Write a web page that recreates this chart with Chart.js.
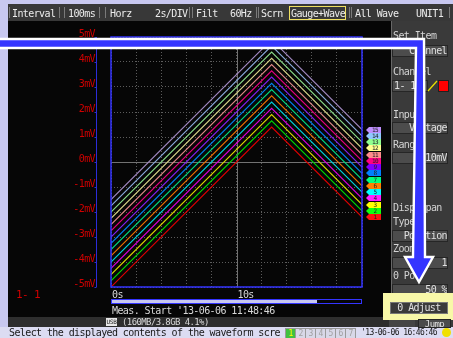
<!DOCTYPE html>
<html>
<head>
<meta charset="utf-8">
<script src="https://cdn.jsdelivr.net/npm/chart.js@4.4.1/dist/chart.umd.min.js"></script>
<style>
html, body { margin: 0; padding: 0; }
body {
    width: 453px; height: 338px; overflow: hidden; position: relative;
    background: #c8c8f0;
    font-family: 'DejaVu Sans Mono', monospace; font-size: 10px; letter-spacing: -0.6px;
}
.box { position: absolute; }
.t { position: absolute; white-space: nowrap; line-height: 12px; }
.top { color: #ececec; top: 8px; }
.p { color: #d4d4d4; left: 393px; }
.btn {
    position: absolute; left: 392px; width: 54px; height: 10px; line-height: 10px;
    background: #4c4c4c; border: 1px solid #262626; color: #e0e0e0;
    text-align: right; white-space: nowrap; overflow: hidden;
}
.sep { position: absolute; top: 7px; width: 1px; height: 11px; background: #7a7a7a; }
.cell { position: absolute; top: 328px; width: 9px; height: 9px; border: 1px solid #9a9a9a; color: #a0a0a0; font-size: 8px; line-height: 9px; text-align: center; background: #d8d8e8; }
#c { position: absolute; left: 0; top: 0; }
</style>
</head>
<body>

<!-- frames -->
<div class="box" style="left:8px;top:4px;width:445px;height:17px;background:#383838"></div>
<div class="box" style="left:8px;top:21px;width:383px;height:296px;background:#060606"></div>
<div class="box" style="left:391px;top:21px;width:62px;height:306px;background:#3a3a3a;border-left:1px solid #676767"></div>
<div class="box" style="left:8px;top:317px;width:383px;height:10px;background:#2e2e2e"></div>
<div class="box" style="left:0;top:327px;width:453px;height:11px;background:#dcdcf2"></div>

<canvas id="c" width="453" height="338"></canvas>

<!-- top bar -->
<div class="sep" style="left:9px"></div><div class="sep" style="left:59px"></div>
<div class="sep" style="left:64px"></div><div class="sep" style="left:99px"></div>
<div class="sep" style="left:105px"></div><div class="sep" style="left:189px"></div>
<div class="sep" style="left:192px"></div><div class="sep" style="left:256px"></div>
<div class="sep" style="left:258px"></div><div class="sep" style="left:349px"></div>
<div class="sep" style="left:351px"></div><div class="sep" style="left:449px"></div>
<div class="t top" style="left:12px">Interval</div>
<div class="t top" style="left:68px">100ms</div>
<div class="t top" style="left:110px">Horz</div>
<div class="t top" style="left:155px">2s/DIV</div>
<div class="t top" style="left:196px">Filt</div>
<div class="t top" style="left:230px">60Hz</div>
<div class="t top" style="left:261px">Scrn</div>
<div class="box" style="left:289px;top:6px;width:55px;height:12px;border:1px solid #f0e060"></div>
<div class="t top" style="left:291px">Gauge+Wave</div>
<div class="t top" style="left:355px">All Wave</div>
<div class="t top" style="left:416px">UNIT1</div>

<!-- left / bottom of waveform area -->
<div class="t" style="left:16px;top:289px;color:#d00000;font-size:11px">1- 1</div>
<div class="box" style="left:111px;top:299px;width:249px;height:3px;border:1px solid #3434ff"></div>
<div class="box" style="left:112px;top:300px;width:205px;height:3px;background:#c8c8f0"></div>
<div class="t" style="left:112px;top:305px;color:#d8d8d8">Meas. Start  '13-06-06 11:48:46</div>
<div class="box" style="left:106px;top:318px;width:11px;height:8px;background:#e8e8e8;color:#202020;font-size:6px;line-height:8px;text-align:center;letter-spacing:-0.3px">USB</div>
<div class="t" style="left:122px;top:316px;color:#d8d8d8;font-size:9px">(160MB/3.8GB  4.1%)</div>

<!-- bottom row -->
<div class="t" style="left:9px;top:327px;color:#181818">Select the displayed contents of the waveform scre</div>
<div class="cell" style="left:285px;background:#40c040;color:#ffff00">1</div>
<div class="cell" style="left:295px">2</div>
<div class="cell" style="left:305px">3</div>
<div class="cell" style="left:315px">4</div>
<div class="cell" style="left:325px">5</div>
<div class="cell" style="left:335px">6</div>
<div class="cell" style="left:345px">7</div>
<div class="t" style="left:361px;top:327px;color:#181818;font-size:8px">'13-06-06 16:46:46</div>
<div class="box" style="left:442px;top:328px;width:9px;height:9px;border-radius:5px;background:#f0e000"></div>

<!-- right panel -->
<div class="t p" style="top:30px">Set Item</div>
<div class="btn" style="top:45px">Channel</div>
<div class="t p" style="top:66px">Channel</div>
<div class="btn" style="top:80px;width:33px;text-align:left;padding-left:1px">1- 1</div>
<svg class="box" style="left:427px;top:80px" width="11" height="12"><line x1="1" y1="11" x2="10" y2="1" stroke="#e8e000" stroke-width="1.3"/></svg>
<div class="box" style="left:438px;top:80px;width:9px;height:10px;background:#ff0000;border:1px solid #202020"></div>
<div class="t p" style="top:109px">Input</div>
<div class="btn" style="top:122px">Voltage</div>
<div class="t p" style="top:139px">Range</div>
<div class="btn" style="top:152px">10mV</div>
<div class="t p" style="top:202px">Disp Span</div>
<div class="t p" style="top:216px">Type</div>
<div class="btn" style="top:230px">Position</div>
<div class="t p" style="top:243px">Zoom</div>
<div class="btn" style="top:257px">1</div>
<div class="t p" style="top:270px">0 Pos</div>
<div class="btn" style="top:284px">50 %</div>
<div class="box" style="left:383px;top:293px;width:70px;height:27px;background:#f8f8a8"></div>
<div class="btn" style="left:390px;top:302px;width:56px;text-align:center;background:#3a3a3a;border-color:#777">0 Adjust</div>
<div class="box" style="left:389px;top:320px;width:26px;height:7px;background:#454545"></div>
<div class="btn" style="left:418px;top:319px;width:31px;height:7px;line-height:8px;text-align:center;font-size:9px">Jump</div>

<!-- overlay arrow -->
<svg class="box" style="left:0;top:0;z-index:5" width="453" height="338">
  <polygon points="-5,39 424,39 425,257 433,257 419,282 405,257 413,257 416,48 -5,48"
           fill="#3434ff" stroke="#ffffff" stroke-width="2.4" stroke-linejoin="miter"/>
</svg>

<script>
// time axis (s) of the three sampled corners of each ramp
const timeSec = [0, 12.8, 20];

// channel values in mV at those times
const ch1  = [-5.00, 1.40, -2.20];
const ch2  = [-4.75, 1.65, -1.95];
const ch3  = [-4.50, 1.90, -1.70];
const ch4  = [-4.25, 2.15, -1.45];
const ch5  = [-4.00, 2.40, -1.20];
const ch6  = [-3.75, 2.65, -0.95];
const ch7  = [-3.50, 2.90, -0.70];
const ch8  = [-3.25, 3.15, -0.45];
const ch9  = [-3.00, 3.40, -0.20];
const ch10 = [-2.75, 3.65, 0.05];
const ch11 = [-2.50, 3.90, 0.30];
const ch12 = [-2.25, 4.15, 0.55];
const ch13 = [-2.00, 4.40, 0.80];
const ch14 = [-1.75, 4.65, 1.05];
const ch15 = [-1.50, 4.90, 1.30];

const channels = [ch1, ch2, ch3, ch4, ch5, ch6, ch7, ch8, ch9, ch10, ch11, ch12, ch13, ch14, ch15];
const channelNames = ['1', '2', '3', '4', '5', '6', '7', '8', '9', '10', '11', '12', '13', '14', '15'];

// tick labels
const xLabelValues = [0, 10];
const xLabels = ['0s', '10s'];
const yUnit = 'mV';

const lineColors = ['#e00000', '#00d800', '#d8d800', '#d800d8', '#00d0d8', '#e87000', '#00d880', '#0080f0',
    '#8020f0', '#e80080', '#e08888', '#d8d488', '#88d888', '#88a8d8', '#a088c0'];
const tagColors = ['#ff1010', '#10ff10', '#ffff00', '#ff20ff', '#00ffff', '#ff8000', '#00ff80', '#0080ff',
    '#8000ff', '#ff0080', '#ff8c8c', '#ffff90', '#90ff90', '#90c8ff', '#c090ff'];

const monoFont = 'DejaVu Sans Mono';

// axis line, plot frame, centre lines and channel tags
const scopePlugin = {
    id: 'scope',
    beforeDraw(chart) {
        chart.ctx.letterSpacing = '-0.6px';
    },
    beforeDatasetsDraw(chart) {
        const { ctx, chartArea: a, scales } = chart;
        ctx.save();
        ctx.strokeStyle = '#727272';
        ctx.lineWidth = 1;
        const y0 = Math.round(scales.y.getPixelForValue(0)) + 0.5;
        const x10 = Math.round(scales.x.getPixelForValue(10)) + 0.5;
        ctx.beginPath();
        ctx.moveTo(a.left, y0); ctx.lineTo(a.right, y0);
        ctx.moveTo(x10, a.top); ctx.lineTo(x10, a.bottom);
        ctx.stroke();
        ctx.restore();
    },
    afterDatasetsDraw(chart) {
        const { ctx, chartArea: a, scales } = chart;
        ctx.save();
        ctx.strokeStyle = '#3434ff';
        ctx.lineWidth = 1.5;
        ctx.strokeRect(a.left, a.top, a.right - a.left, a.bottom - a.top);

        // left axis line with tick marks
        const ax = a.left - 14.5;
        ctx.strokeStyle = '#2c2cd8';
        ctx.lineWidth = 1;
        ctx.beginPath();
        ctx.moveTo(ax, a.top); ctx.lineTo(ax, a.bottom);
        scales.y.ticks.forEach(function (tk) {
            const py = Math.round(scales.y.getPixelForValue(tk.value)) + 0.5;
            ctx.moveTo(ax - 2, py); ctx.lineTo(ax, py);
        });
        ctx.stroke();

        // channel tags at the last value
        ctx.font = '6px ' + monoFont;
        ctx.textAlign = 'center';
        ctx.textBaseline = 'middle';
        chart.data.datasets.forEach(function (ds, i) {
            const last = ds.data[ds.data.length - 1];
            const py = Math.round(scales.y.getPixelForValue(last.y));
            const x0 = a.right + 4;
            ctx.fillStyle = tagColors[i];
            ctx.beginPath();
            ctx.moveTo(x0, py);
            ctx.lineTo(x0 + 3, py - 3);
            ctx.lineTo(x0 + 15, py - 3);
            ctx.lineTo(x0 + 15, py + 3);
            ctx.lineTo(x0 + 3, py + 3);
            ctx.closePath();
            ctx.fill();
            ctx.fillStyle = '#202020';
            ctx.fillText(channelNames[i], x0 + 9, py + 0.5);
        });
        ctx.restore();
    }
};

const datasets = channels.map(function (vals, i) {
    return {
        label: 'CH1-' + channelNames[i],
        data: timeSec.map(function (t, j) { return { x: t, y: vals[j] }; }),
        borderColor: lineColors[i],
        borderWidth: 1.1,
        pointRadius: 0,
        tension: 0
    };
});

new Chart(document.getElementById('c'), {
    type: 'line',
    data: { datasets: datasets },
    options: {
        responsive: false,
        animation: false,
        layout: { padding: { top: 37, right: 91, bottom: 30, left: 0 } },
        plugins: {
            legend: { display: false },
            tooltip: { enabled: false }
        },
        scales: {
            x: {
                type: 'linear',
                min: 0,
                max: 20,
                afterFit: function (scale) { scale.height = 21; },
                ticks: {
                    stepSize: 2,
                    autoSkip: false,
                    maxRotation: 0,
                    align: 'start',
                    padding: 2,
                    labelOffset: 1,
                    color: '#d8d8d8',
                    font: { family: monoFont, size: 10 },
                    callback: function (value) {
                        const i = xLabelValues.indexOf(value);
                        return i >= 0 ? xLabels[i] : '';
                    }
                },
                grid: { color: '#5c5c5c', drawTicks: false, lineWidth: 1 },
                border: { display: false, dash: [1, 2] }
            },
            y: {
                min: -5,
                max: 5,
                afterFit: function (scale) { scale.width = 111; },
                ticks: {
                    stepSize: 1,
                    padding: 16,
                    labelOffset: -3,
                    color: '#d00000',
                    font: { family: monoFont, size: 10 },
                    callback: function (value) { return value + yUnit; }
                },
                grid: { color: '#5c5c5c', drawTicks: false, lineWidth: 1 },
                border: { display: false, dash: [1, 2] }
            }
        }
    },
    plugins: [scopePlugin]
});
</script>
</body>
</html>
